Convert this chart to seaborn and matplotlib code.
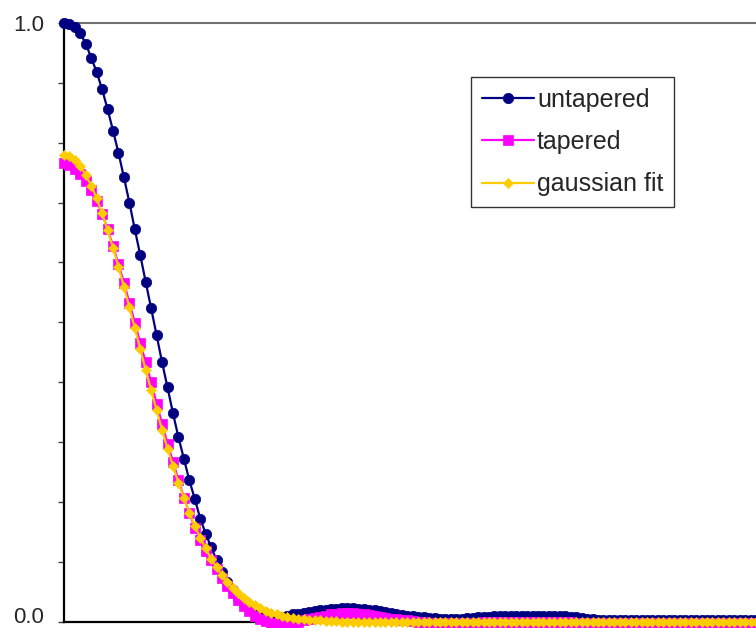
import numpy as np
import pandas as pd
import matplotlib
matplotlib.use("Agg")
import matplotlib.pyplot as plt
import matplotlib.transforms as mtransforms
import seaborn as sns

# Lag index of each point (128 points)
lag = list(range(128))

# Autocorrelation values
untapered = [
    1.000, 0.998, 0.993, 0.983, 0.965, 0.942, 0.918, 0.889, 0.856, 0.820,
    0.783, 0.742, 0.700, 0.655, 0.612, 0.567, 0.523, 0.478, 0.433, 0.391,
    0.348, 0.308, 0.272, 0.236, 0.205, 0.172, 0.147, 0.124, 0.103, 0.083,
    0.066, 0.052, 0.040, 0.030, 0.022, 0.016, 0.011, 0.008, 0.006, 0.006,
    0.008, 0.010, 0.012, 0.013, 0.015, 0.016, 0.018, 0.019, 0.020, 0.021,
    0.021, 0.022, 0.022, 0.022, 0.021, 0.021, 0.020, 0.019, 0.017, 0.016,
    0.014, 0.012, 0.011, 0.010, 0.009, 0.008, 0.007, 0.006, 0.006, 0.005,
    0.005, 0.005, 0.005, 0.005, 0.006, 0.006, 0.007, 0.008, 0.008, 0.009,
    0.009, 0.009, 0.009, 0.009, 0.009, 0.009, 0.009, 0.009, 0.009, 0.009,
    0.009, 0.009, 0.009, 0.008, 0.007, 0.006, 0.005, 0.004, 0.003, 0.003,
    0.003, 0.003, 0.003, 0.003, 0.003, 0.003, 0.003, 0.003, 0.003, 0.003,
    0.003, 0.003, 0.003, 0.003, 0.003, 0.003, 0.003, 0.003, 0.003, 0.003,
    0.003, 0.003, 0.003, 0.003, 0.003, 0.003, 0.003, 0.003,
]

tapered = [
    0.766, 0.763, 0.756, 0.748, 0.736, 0.721, 0.703, 0.681, 0.656, 0.627,
    0.597, 0.566, 0.532, 0.499, 0.465, 0.433, 0.400, 0.364, 0.330, 0.297,
    0.267, 0.236, 0.207, 0.181, 0.157, 0.136, 0.118, 0.102, 0.087, 0.073,
    0.060, 0.048, 0.036, 0.026, 0.017, 0.010, 0.005, 0.001, -0.002, -0.003,
    -0.003, -0.003, -0.002, 0.000, 0.002, 0.004, 0.006, 0.008, 0.010, 0.012,
    0.013, 0.014, 0.014, 0.014, 0.013, 0.012, 0.011, 0.009, 0.007, 0.006,
    0.005, 0.004, 0.003, 0.002, 0.001, 0.000, -0.001, -0.002, -0.002, -0.002,
    -0.002, -0.002, -0.002, -0.002, -0.002, -0.002, -0.002, -0.001, 0.000, 0.000,
    0.000, 0.000, 0.000, 0.000, 0.000, 0.000, 0.000, 0.000, 0.000, 0.000,
    0.000, 0.000, 0.000, -0.001, -0.002, -0.002, -0.002, -0.002, -0.002, -0.002,
    -0.002, -0.002, -0.002, -0.002, -0.002, -0.002, -0.002, -0.002, -0.002, -0.002,
    -0.002, -0.002, -0.002, -0.002, -0.002, -0.002, -0.002, -0.002, -0.002, -0.002,
    -0.002, -0.002, -0.002, -0.002, -0.002, -0.002, -0.002, -0.002,
]

gaussian_fit = [
    0.780, 0.778, 0.771, 0.761, 0.746, 0.728, 0.707, 0.682, 0.654, 0.624,
    0.593, 0.559, 0.525, 0.490, 0.455, 0.420, 0.386, 0.353, 0.320, 0.289,
    0.260, 0.232, 0.206, 0.182, 0.160, 0.140, 0.122, 0.105, 0.091, 0.077,
    0.066, 0.056, 0.047, 0.039, 0.033, 0.027, 0.022, 0.018, 0.015, 0.012,
    0.010, 0.008, 0.006, 0.005, 0.004, 0.003, 0.002, 0.002, 0.001, 0.001,
    0.001, 0.000, 0.000, 0.000, 0.000, 0.000, 0.000, 0.000, 0.000, 0.000,
    0.000, 0.000, 0.000, 0.000, 0.000, 0.000, 0.000, 0.000, 0.000, 0.000,
    0.000, 0.000, 0.000, 0.000, 0.000, 0.000, 0.000, 0.000, 0.000, 0.000,
    0.000, 0.000, 0.000, 0.000, 0.000, 0.000, 0.000, 0.000, 0.000, 0.000,
    0.000, 0.000, 0.000, 0.000, 0.000, 0.000, 0.000, 0.000, 0.000, 0.000,
    0.000, 0.000, 0.000, 0.000, 0.000, 0.000, 0.000, 0.000, 0.000, 0.000,
    0.000, 0.000, 0.000, 0.000, 0.000, 0.000, 0.000, 0.000, 0.000, 0.000,
    0.000, 0.000, 0.000, 0.000, 0.000, 0.000, 0.000, 0.000,
]

series_names = ["untapered", "tapered", "gaussian fit"]
y_tick_labels = ["0.0"] + [""] * 9 + ["1.0"]

sns.set_style("white")
plt.rcParams["font.family"] = ["Liberation Sans", "DejaVu Sans"]

fig = plt.figure(figsize=(7.56, 6.28), dpi=100)
ax = fig.add_axes([64 / 756, 6.5 / 628, 692 / 756, 598.5 / 628])

styles = [
    ("#000080", "o", 7.5, 3),
    ("#FF00FF", "s", 6.8, 4),
    ("#FFCC00", "D", 5.0, 5),
]
for name, values, (color, marker, msize, z) in zip(
        series_names, [untapered, tapered, gaussian_fit], styles):
    sns.lineplot(x=lag, y=values, ax=ax, color=color, marker=marker,
                 markersize=msize, markeredgecolor=color, markeredgewidth=0.5,
                 linewidth=1.6, label=name, clip_on=False, zorder=z)

ax.set_xlim(0, 127)
ax.set_ylim(0, 1)
ax.set_xticks([])
ax.set_yticks(np.linspace(0, 1, 11))
ax.set_yticklabels(y_tick_labels)
ax.tick_params(axis="y", direction="out", length=4.5, width=1,
               color="#404040", pad=10, labelsize=16, left=True)
# nudge the bottom label up so it stays inside the picture
shift = mtransforms.ScaledTranslation(0, 5 / 72, fig.dpi_scale_trans)
lbl0 = ax.get_yticklabels()[0]
lbl0.set_transform(lbl0.get_transform() + shift)
ax.set_xlabel("")
ax.set_ylabel("")

for side in ["left", "bottom"]:
    ax.spines[side].set_color("black")
    ax.spines[side].set_linewidth(1.6)
ax.spines["top"].set_color("#707070")
ax.spines["top"].set_linewidth(1.5)
ax.spines["right"].set_visible(False)

leg = ax.legend(loc="upper left", bbox_to_anchor=((471 - 64) / 692, (621.5 - 77) / 598.5),
                fontsize=18, frameon=True, fancybox=False, framealpha=1,
                edgecolor="#333333", handlelength=2.1, handletextpad=0.12,
                labelspacing=0.74, borderpad=0.42, borderaxespad=0)
leg.get_frame().set_linewidth(1.0)

fig.savefig("out.png", dpi=100)
